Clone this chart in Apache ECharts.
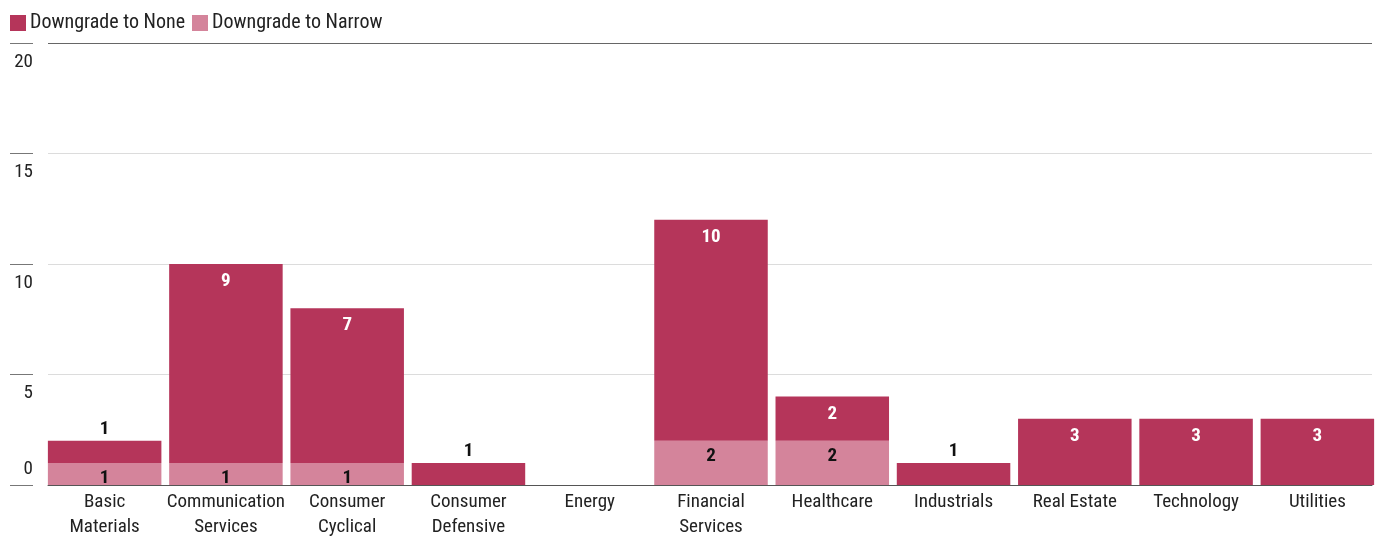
<!DOCTYPE html>
<html><head><meta charset="utf-8">
<script src="https://cdn.jsdelivr.net/npm/echarts@6/dist/echarts.min.js"></script>
<style>html,body{margin:0;padding:0;background:#fff}#c{width:1383px;height:538px}</style>
</head><body><div id="c"></div>
<script>
const categories = ["Basic\nMaterials","Communication\nServices","Consumer\nCyclical","Consumer\nDefensive","Energy","Financial\nServices","Healthcare","Industrials","Real Estate","Technology","Utilities"];
const downgradeNarrow = [1,1,1,0,0,2,2,0,0,0,0];
const downgradeNone = [1,9,7,1,0,10,2,1,3,3,3];
const yTicks = [0,5,10,15,20];

const FONT = '"Roboto Condensed","Liberation Sans Narrow",sans-serif';
const FS = 19;
const cNone = '#b5355a', cNarrow = '#d4849b';

const noneData = downgradeNone.map(v => {
  if (v === 0) return {value: v, label: {show: false}};
  if (v < 2) return {value: v, label: {show: true, position: 'top', distance: 2, color: '#111'}};
  return {value: v, label: {show: true, position: 'insideTop', distance: 8, color: '#fff'}};
});
const narrowData = downgradeNarrow.map(v => ({value: v, label: {show: v > 0}}));

const chart = echarts.init(document.getElementById('c'));
chart.setOption({
  animation: false,
  textStyle: {fontFamily: FONT},
  legend: {
    left: 5, top: 8, itemWidth: 16, itemHeight: 16, itemGap: 7, icon: 'rect',
    textStyle: {fontFamily: FONT, fontSize: 20, color: '#222', padding: [0,0,0,-1]},
    data: ['Downgrade to None', 'Downgrade to Narrow']
  },
  grid: [
    {left: 48, right: 11, top: 43, bottom: 53, outerBoundsMode: 'none', containLabel: false},
    {left: 44, right: 5, top: 43, bottom: 53, outerBoundsMode: 'none', containLabel: false}
  ],
  xAxis: [{
    gridIndex: 0, type: 'category', data: categories,
    axisLine: {lineStyle: {color: '#555', width: 1}},
    axisTick: {show: false}, axisLabel: {show: false}
  }, {
    gridIndex: 1, type: 'category', data: categories,
    axisLine: {show: false}, axisTick: {show: false},
    axisLabel: {fontFamily: FONT, fontSize: FS, color: '#222', lineHeight: 25, margin: 5, interval: 0}
  }],
  yAxis: [{
    gridIndex: 0, type: 'value', min: 0, max: 20, interval: 5,
    axisLine: {show: false}, axisTick: {show: false}, axisLabel: {show: false},
    splitLine: {lineStyle: {color: ['#555', '#dcdcdc', '#dcdcdc', '#dcdcdc', '#666'], width: 1}}
  }, {
    gridIndex: 0, type: 'value', min: 0, max: 20, interval: 5, position: 'left', offset: 15,
    axisLine: {show: false},
    axisTick: {show: true, length: 23, lineStyle: {color: '#777', width: 1}},
    splitLine: {show: false},
    axisLabel: {
      margin: 0, align: 'right', verticalAlign: 'middle', fontFamily: FONT, fontSize: FS, color: '#222',
      formatter: v => v === 0 ? '{lo|' + v + '}' : '{hi|' + v + '}',
      rich: {
        hi: {fontFamily: FONT, fontSize: FS, color: '#222', padding: [38, 0, 0, 0]},
        lo: {fontFamily: FONT, fontSize: FS, color: '#222', padding: [0, 0, 31, 0]}
      }
    }
  }, {
    gridIndex: 1, type: 'value', min: 0, max: 20, interval: 5, show: false
  }],
  series: [{
    name: 'Downgrade to Narrow', type: 'bar', stack: 's', data: narrowData,
    xAxisIndex: 1, yAxisIndex: 2,
    itemStyle: {color: cNarrow}, barCategoryGap: '6.4%',
    label: {position: 'insideTop', distance: 6, color: '#111', fontFamily: FONT, fontSize: FS, fontWeight: 'bold'}
  }, {
    name: 'Downgrade to None', type: 'bar', stack: 's', data: noneData,
    xAxisIndex: 1, yAxisIndex: 2,
    itemStyle: {color: cNone}, barCategoryGap: '6.4%',
    label: {fontFamily: FONT, fontSize: FS, fontWeight: 'bold'}
  }]
});
</script></body></html>
